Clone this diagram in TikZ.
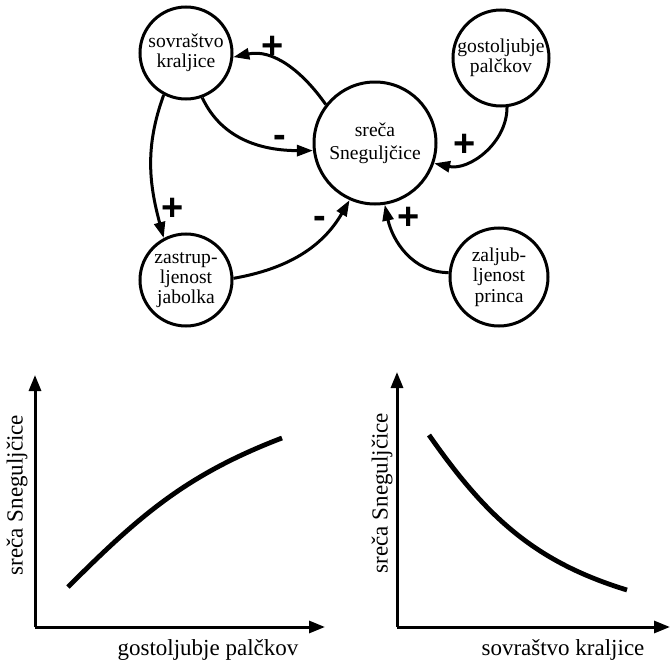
\documentclass[tikz,border=0pt]{standalone}
\usepackage{fontspec}
\setmainfont{Liberation Serif}
\newfontfamily\signfont{Liberation Sans}
\usetikzlibrary{arrows.meta}

\begin{document}
\begin{tikzpicture}[x=0.5pt,y=0.5pt,
  var/.style={circle,draw,line width=1.5pt,inner sep=0pt,align=center,font=\fontsize{9.8}{10.2}\selectfont},
  link/.style={line width=1.5pt,-{Triangle[length=8pt,width=5.5pt]}},
  sign/.style={font=\signfont\bfseries\fontsize{19}{19}\selectfont},
  axis/.style={line width=1.5pt,-{Triangle[length=8pt,width=6pt]}},
  curve/.style={line width=2.4pt},
  axlabel/.style={font=\fontsize{11.5}{12}\selectfont}]
\useasboundingbox (0,0) rectangle (671,661);
\node[var,minimum size=46pt] (sovr) at (186,608) {sovraštvo\\kraljice};
\node[var,minimum size=61pt,font=\fontsize{9.8}{11.5}\selectfont] (sreca) at (375,518) {sreča\\Sneguljčice};
\node[var,minimum size=48pt] (gost) at (501,603) {gostoljubje\\palčkov};
\node[var,minimum size=46pt] (zast) at (186,381) {zastrup-\\ljenost\\jabolka};
\node[var,minimum size=49pt] (zalj) at (499,384) {zaljub-\\ljenost\\princa};
\draw[link] (sreca.142) to[out=125,in=12] (sovr.-5);
\draw[link] (sovr.-70) to[out=-65,in=180] (sreca.187);
\draw[link] (sovr.-118) to[out=-110,in=105] (zast.118);
\draw[link] (zast.2) to[out=10,in=240] (sreca.-114);
\draw[link] (zalj.175) to[out=180,in=-78] (sreca.-81);
\draw[link] (gost.-83) to[out=-90,in=-12] (sreca.-19);
\node[sign] (s1) at (273,614) {+};
\node[sign] (s2) at (280,520) {-};
\node[sign] (s3) at (173,452) {+};
\node[sign] (s4) at (320,439) {-};
\node[sign] (s5) at (409,443) {+};
\node[sign] (s6) at (465,516) {+};
\coordinate (o1) at (35,34);
\coordinate (y1) at (35,286);
\coordinate (x1) at (325,34);
\draw[axis] (o1) -- (y1);
\draw[axis] (o1) -- (x1);
\draw[curve] (68,74) to[out=45,in=201] (282,223);
\node[axlabel] (xl1) at (208,11) {gostoljubje palčkov};
\node[axlabel,rotate=90] (yl1) at (17,166) {sreča Sneguljčice};
\coordinate (o2) at (397,34);
\coordinate (y2) at (397,289);
\coordinate (x2) at (670,34);
\draw[axis] (o2) -- (y2);
\draw[axis] (o2) -- (x2);
\draw[curve] (429,226) to[out=-55,in=163] (627,71);
\node[axlabel] (xl2) at (563,11) {sovraštvo kraljice};
\node[axlabel,rotate=90] (yl2) at (382,168) {sreča Sneguljčice};
\end{tikzpicture}
\end{document}
